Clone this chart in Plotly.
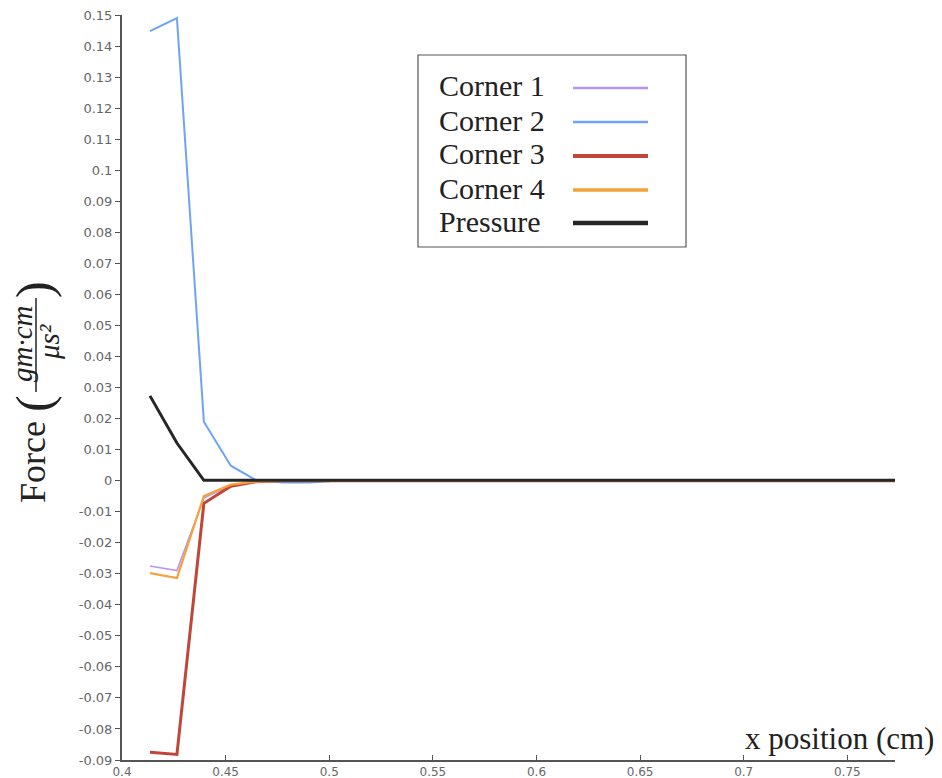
import plotly.graph_objects as go

# ---- data ----
x_pos = [0.4135, 0.4265, 0.4395, 0.4525, 0.4645, 0.4775, 0.4905, 0.5035, 0.773]
corner1 = [-0.0275, -0.0290, -0.0056, -0.0015, -0.0003, 0.0, 0.0, 0.0, 0.0]
corner2 = [0.1448, 0.1490, 0.0190, 0.0048, 0.0002, -0.0006, -0.0006, 0.0, 0.0]
corner3 = [-0.0875, -0.0882, -0.0073, -0.0018, -0.0004, 0.0, 0.0, 0.0, 0.0]
corner4 = [-0.0298, -0.0314, -0.0050, -0.0013, -0.0003, 0.0, 0.0, 0.0, 0.0]
pressure = [0.0273, 0.0121, 0.0001, 0.0001, 0.0001, 0.0001, 0.0001, 0.0001, 0.0001]

series_names = ["Corner 1", "Corner 2", "Corner 3", "Corner 4", "Pressure"]
series_vals = [corner1, corner2, corner3, corner4, pressure]
series_colors = ["#b896ee", "#6fa3f7", "#c0463a", "#f4a33c", "#262626"]
series_widths = [1.6, 2.0, 3.0, 2.2, 3.0]
legend_widths = [2.5, 2.5, 4, 3.5, 4.5]

y_ticks = [round(-0.09 + 0.01 * i, 2) for i in range(25)]
x_ticks = [0.4, 0.45, 0.5, 0.55, 0.6, 0.65, 0.7, 0.75]

W, H = 942, 778
L, R, T, B = 122, 47, 15, 18
PW, PH = W - L - R, H - T - B


def px2x(px):
    return (px - L) / PW


def py2y(py):
    return (H - B - py) / PH


fig = go.Figure()
for name, vals, col, w in zip(series_names, series_vals, series_colors, series_widths):
    fig.add_trace(go.Scatter(x=x_pos, y=vals, mode="lines", name=name,
                             line=dict(color=col, width=w), showlegend=False))

tickfont = dict(family="DejaVu Sans", size=13, color="#666")
fig.update_xaxes(range=[0.4, 0.773], tickvals=x_ticks, ticktext=[f"{v:g}" for v in x_ticks],
                 showline=True, linecolor="#555", linewidth=2, ticks="inside", ticklen=5,
                 tickcolor="#555", tickfont=dict(family="DejaVu Sans", size=12, color="#666"),
                 showgrid=False, zeroline=False, automargin=False)
fig.update_yaxes(range=[-0.09, 0.15], tickvals=y_ticks, ticktext=[f"{v:g}" for v in y_ticks],
                 showline=True, linecolor="#555", linewidth=2, ticks="outside", ticklen=5,
                 tickcolor="#555", tickfont=tickfont, showgrid=False, zeroline=False,
                 automargin=False)

shapes = []
annotations = []
serif = "Liberation Serif"

# legend box
shapes.append(dict(type="rect", xref="paper", yref="paper",
                   x0=px2x(418), x1=px2x(686), y0=py2y(247), y1=py2y(55),
                   line=dict(color="#555", width=1.2), fillcolor="white", layer="above"))
leg_y = [86, 120, 154, 188, 221]
for name, col, lw, yy in zip(series_names, series_colors, legend_widths, leg_y):
    annotations.append(dict(xref="paper", yref="paper", x=px2x(437), y=py2y(yy),
                            xanchor="left", yanchor="middle", text=name, showarrow=False,
                            font=dict(family=serif, size=30, color="#222")))
    shapes.append(dict(type="line", xref="paper", yref="paper",
                       x0=px2x(573), x1=px2x(648), y0=py2y(yy + 2), y1=py2y(yy + 2),
                       line=dict(color=col, width=lw), layer="above"))

# x axis title
annotations.append(dict(xref="paper", yref="paper", x=px2x(936), y=py2y(738),
                        xanchor="right", yanchor="middle", text="x position (cm)",
                        showarrow=False, font=dict(family=serif, size=31, color="#222")))

# y axis title pieces: Force ( gm·cm / μs² )
annotations.append(dict(xref="paper", yref="paper", x=px2x(33), y=py2y(462),
                        xanchor="center", yanchor="middle", text="Force", textangle=-90,
                        showarrow=False, font=dict(family=serif, size=36, color="#222")))
annotations.append(dict(xref="paper", yref="paper", x=px2x(34), y=py2y(404),
                        xanchor="center", yanchor="middle", text="(", textangle=-90,
                        showarrow=False, font=dict(family=serif, size=50, color="#222")))
annotations.append(dict(xref="paper", yref="paper", x=px2x(22), y=py2y(344),
                        xanchor="center", yanchor="middle", text="<i>gm·cm</i>", textangle=-90,
                        showarrow=False, font=dict(family=serif, size=29, color="#222")))
annotations.append(dict(xref="paper", yref="paper", x=px2x(49), y=py2y(342),
                        xanchor="center", yanchor="middle", text="<i>μs²</i>",
                        textangle=-90, showarrow=False,
                        font=dict(family=serif, size=29, color="#222")))
shapes.append(dict(type="line", xref="paper", yref="paper",
                   x0=px2x(36), x1=px2x(36), y0=py2y(392), y1=py2y(298),
                   line=dict(color="#222", width=1.5)))
annotations.append(dict(xref="paper", yref="paper", x=px2x(34), y=py2y(290),
                        xanchor="center", yanchor="middle", text=")", textangle=-90,
                        showarrow=False, font=dict(family=serif, size=50, color="#222")))

fig.update_layout(width=W, height=H, margin=dict(l=L, r=R, t=T, b=B),
                  plot_bgcolor="white", paper_bgcolor="white",
                  shapes=shapes, annotations=annotations, showlegend=False)

fig.write_html("out.html")
